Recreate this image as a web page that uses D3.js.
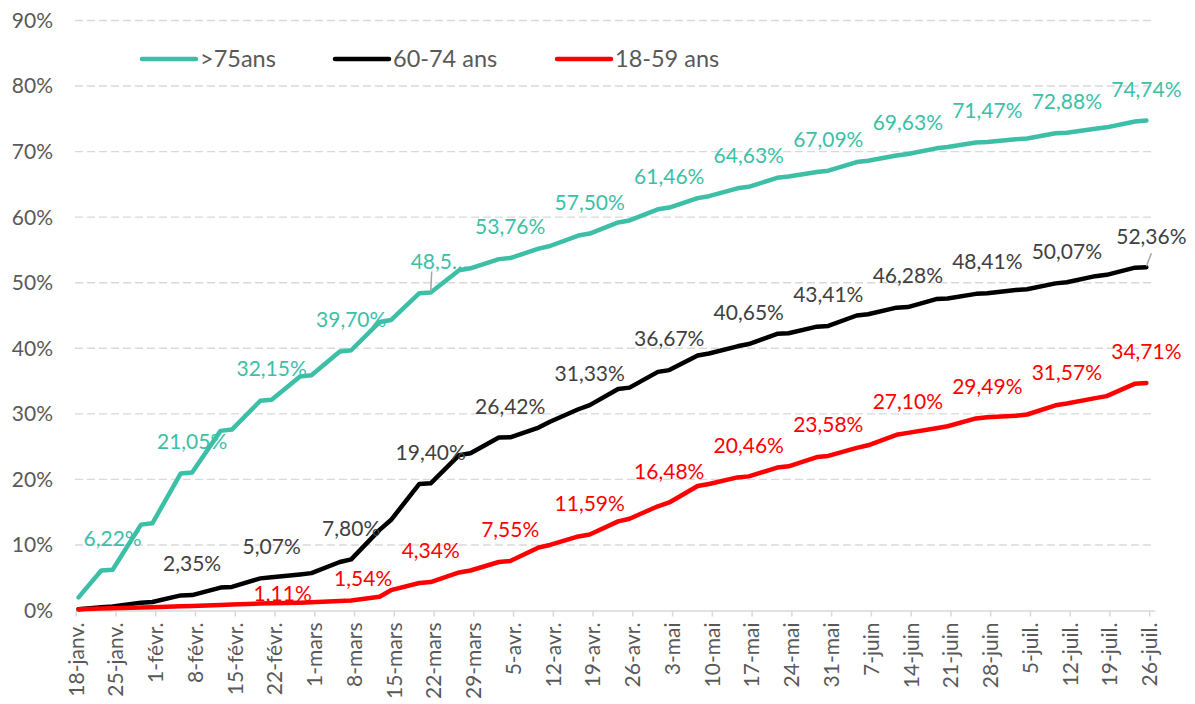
<!DOCTYPE html>
<html>
<head>
<meta charset="utf-8">
<script src="https://cdn.jsdelivr.net/npm/d3@7"></script>
<style>
  body { margin: 0; background: #fff; }
  svg text { font-family: Lato, "Open Sans", sans-serif; }
</style>
</head>
<body>
<div class="line-chart"></div>
<script>

// one point per Friday and Sunday (weekend plateau), from 18 Jan to 25 Jul 2021
var dates = ["2021-01-18",
  "2021-01-22", "2021-01-24", "2021-01-29", "2021-01-31", "2021-02-05", "2021-02-07",
  "2021-02-12", "2021-02-14", "2021-02-19", "2021-02-21", "2021-02-26", "2021-02-28",
  "2021-03-05", "2021-03-07", "2021-03-12", "2021-03-14", "2021-03-19", "2021-03-21",
  "2021-03-26", "2021-03-28", "2021-04-02", "2021-04-04", "2021-04-09", "2021-04-11",
  "2021-04-16", "2021-04-18", "2021-04-23", "2021-04-25", "2021-04-30", "2021-05-02",
  "2021-05-07", "2021-05-09", "2021-05-14", "2021-05-16", "2021-05-21", "2021-05-23",
  "2021-05-28", "2021-05-30", "2021-06-04", "2021-06-06", "2021-06-11", "2021-06-13",
  "2021-06-18", "2021-06-20", "2021-06-25", "2021-06-27", "2021-07-02", "2021-07-04",
  "2021-07-09", "2021-07-11", "2021-07-16", "2021-07-18", "2021-07-23", "2021-07-25"]

var over75 = [2.0,
  6.1, 6.22, 13.1, 13.3, 20.9, 21.05,
  27.4, 27.6, 32.0, 32.15, 35.7, 35.9,
  39.5, 39.70, 44.0, 44.3, 48.4, 48.52,
  51.9, 52.2, 53.6, 53.76, 55.2, 55.6,
  57.2, 57.50, 59.2, 59.5, 61.2, 61.46,
  62.9, 63.2, 64.4, 64.63, 66.0, 66.2,
  66.9, 67.09, 68.4, 68.6, 69.4, 69.63,
  70.5, 70.7, 71.4, 71.47, 71.9, 72.0,
  72.8, 72.88, 73.5, 73.7, 74.6, 74.74]

var age6074 = [0.2,
  0.5, 0.6, 1.2, 1.3, 2.3, 2.35,
  3.5, 3.6, 4.9, 5.07, 5.5, 5.7,
  7.4, 7.80, 12.3, 13.8, 19.3, 19.40,
  23.7, 24.0, 26.4, 26.42, 27.9, 28.8,
  30.7, 31.33, 33.8, 34.0, 36.4, 36.67,
  38.9, 39.2, 40.3, 40.65, 42.2, 42.3,
  43.3, 43.41, 45.0, 45.2, 46.2, 46.28,
  47.5, 47.6, 48.3, 48.41, 48.9, 49.0,
  49.9, 50.07, 51.0, 51.2, 52.3, 52.36]

var age1859 = [0.2,
  0.3, 0.35, 0.45, 0.5, 0.65, 0.7,
  0.85, 0.9, 1.05, 1.11, 1.2, 1.25,
  1.45, 1.54, 2.1, 3.1, 4.2, 4.34,
  5.8, 6.1, 7.4, 7.55, 9.6, 10.0,
  11.3, 11.59, 13.6, 14.0, 15.9, 16.48,
  19.0, 19.3, 20.3, 20.46, 21.8, 22.0,
  23.4, 23.58, 24.8, 25.2, 26.8, 27.10,
  27.8, 28.1, 29.3, 29.49, 29.7, 29.9,
  31.3, 31.57, 32.4, 32.7, 34.6, 34.71]

var seriesNames = [">75ans", "60-74 ans", "18-59 ans"]

// dates that carry a value label, per series
var over75Labels = ["2021-01-24", "2021-02-07", "2021-02-21", "2021-03-07", "2021-03-21", "2021-04-04",
  "2021-04-18", "2021-05-02", "2021-05-16", "2021-05-30", "2021-06-13", "2021-06-27", "2021-07-11", "2021-07-25"]
var age6074Labels = ["2021-02-07", "2021-02-21", "2021-03-07", "2021-03-21", "2021-04-04",
  "2021-04-18", "2021-05-02", "2021-05-16", "2021-05-30", "2021-06-13", "2021-06-27", "2021-07-11", "2021-07-25"]
var age1859Labels = ["2021-02-21", "2021-03-07", "2021-03-21", "2021-04-04",
  "2021-04-18", "2021-05-02", "2021-05-16", "2021-05-30", "2021-06-13", "2021-06-27", "2021-07-11", "2021-07-25"]

var tickDates = ["2021-01-18", "2021-01-25", "2021-02-01", "2021-02-08", "2021-02-15", "2021-02-22",
  "2021-03-01", "2021-03-08", "2021-03-15", "2021-03-22", "2021-03-29", "2021-04-05", "2021-04-12",
  "2021-04-19", "2021-04-26", "2021-05-03", "2021-05-10", "2021-05-17", "2021-05-24", "2021-05-31",
  "2021-06-07", "2021-06-14", "2021-06-21", "2021-06-28", "2021-07-05", "2021-07-12", "2021-07-19",
  "2021-07-26"]
var tickLabels = ["18-janv.", "25-janv.", "1-févr.", "8-févr.", "15-févr.", "22-févr.",
  "1-mars", "8-mars", "15-mars", "22-mars", "29-mars", "5-avr.", "12-avr.",
  "19-avr.", "26-avr.", "3-mai", "10-mai", "17-mai", "24-mai", "31-mai",
  "7-juin", "14-juin", "21-juin", "28-juin", "5-juil.", "12-juil.", "19-juil.",
  "26-juil."]

var yTicks = [0, 10, 20, 30, 40, 50, 60, 70, 80, 90]

var width = 1195, height = 704

var parse = d3.timeParse("%Y-%m-%d")
var halfDay = 12 * 3600 * 1000

var svg = d3.select(".line-chart")
  .append("svg")
    .attr("width", width)
    .attr("height", height)

var x = d3.scaleTime()
  .domain([parse("2021-01-18"), parse("2021-07-27")])
  .range([75.7, 1154.9])

var y = d3.scaleLinear()
  .domain([0, 90])
  .range([610.5, 20.5])

var px = function(s) { return x(new Date(parse(s).getTime() + halfDay)) }

// gridlines
svg.append("g")
  .selectAll("line")
  .data(yTicks.filter(function(d) { return d > 0 }))
  .enter()
  .append("line")
    .attr("x1", 75)
    .attr("x2", 1155)
    .attr("y1", function(d) { return y(d) })
    .attr("y2", function(d) { return y(d) })
    .attr("stroke", "#d9d9d9")
    .attr("stroke-width", 1.4)
    .attr("stroke-dasharray", "8,4")

// y labels
svg.append("g")
  .selectAll("text")
  .data(yTicks)
  .enter()
  .append("text")
    .attr("x", 53)
    .attr("y", function(d) { return y(d) })
    .attr("dy", "0.35em")
    .style("text-anchor", "end")
    .style("font-size", "21px")
    .style("fill", "#595959")
    .text(function(d) { return d + "%" })

// x axis
var xAxis = svg.append("g")
  .attr("transform", "translate(0," + y(0) + ")")
  .call(d3.axisBottom(x)
    .tickValues(tickDates.map(parse))
    .tickSize(6)
    .tickSizeOuter(0)
    .tickFormat(function(d, i) { return tickLabels[i] }))

xAxis.select(".domain").attr("stroke", "#d9d9d9").attr("stroke-width", 1.5)
xAxis.selectAll(".tick line").attr("stroke", "#d9d9d9").attr("stroke-width", 1.5)
xAxis.selectAll(".tick text")
  .attr("transform", "rotate(-90)")
  .attr("x", -12)
  .attr("y", 0)
  .attr("dy", "0.35em")
  .style("text-anchor", "end")
  .style("font-size", "21px")
  .style("font-family", "Lato, 'Open Sans', sans-serif")
  .style("fill", "#595959")

var series = [
  {name: seriesNames[0], values: over75, labels: over75Labels, color: "#3cbfa6", labelColor: "#3cbfa6"},
  {name: seriesNames[1], values: age6074, labels: age6074Labels, color: "#000000", labelColor: "#404040"},
  {name: seriesNames[2], values: age1859, labels: age1859Labels, color: "#ff0000", labelColor: "#ff0000"}
]

var line = d3.line()
  .x(function(d) { return px(d[0]) })
  .y(function(d) { return y(d[1]) })

series.forEach(function(s) {
  svg.append("path")
    .datum(dates.map(function(d, i) { return [d, s.values[i]] }))
    .attr("d", line)
    .attr("fill", "none")
    .attr("stroke", s.color)
    .attr("stroke-width", 4.5)
    .attr("stroke-linejoin", "round")
    .attr("stroke-linecap", "round")
})

// labels moved by hand in the original
var labelShift = {
  "18-59 ans|2021-02-21": [11, 21],
  "18-59 ans|2021-03-07": [12, 9],
  "60-74 ans|2021-07-25": [5, 0]
}
var fmt = function(v) { return d3.format(".2f")(v).replace(".", ",") + "%" }

series.forEach(function(s) {
  s.labels.forEach(function(d) {
    var v = s.values[dates.indexOf(d)]
    var cx = px(d), cy = y(v)
    var sh = labelShift[s.name + "|" + d] || [0, 0]
    var lx = cx + sh[0], ly = cy - 31 + sh[1]
    var txt = fmt(v)
    var anchor = "middle"
    if (s.name == ">75ans" && d == "2021-03-21") {
      txt = "48,5…"
      anchor = "start"
      lx = cx - 20
    }
    if (s.name == "60-74 ans" && d == "2021-07-25" || (s.name == ">75ans" && d == "2021-03-21")) {
      svg.append("line")
        .attr("x1", s.name == ">75ans" ? cx + 1 : lx)
        .attr("y1", ly + (s.name == ">75ans" ? 10 : 17))
        .attr("x2", cx)
        .attr("y2", cy - 1)
        .attr("stroke", "#a6a6a6")
        .attr("stroke-width", 1.5)
    }
    svg.append("text")
      .attr("x", lx)
      .attr("y", ly)
      .attr("dy", "0.35em")
      .style("text-anchor", anchor)
      .style("font-size", "21px")
      .style("fill", s.labelColor)
      .text(txt)
  })
})

// legend
var legendX = [142, 335, 557]
series.forEach(function(s, i) {
  svg.append("line")
    .attr("x1", legendX[i])
    .attr("x2", legendX[i] + 54)
    .attr("y1", 59)
    .attr("y2", 59)
    .attr("stroke", s.color)
    .attr("stroke-width", 4.5)
    .attr("stroke-linecap", "round")
  svg.append("text")
    .attr("x", legendX[i] + 58)
    .attr("y", 59)
    .attr("dy", "0.35em")
    .style("font-size", "23.5px")
    .style("fill", "#595959")
    .text(s.name)
})

</script>
</body>
</html>
